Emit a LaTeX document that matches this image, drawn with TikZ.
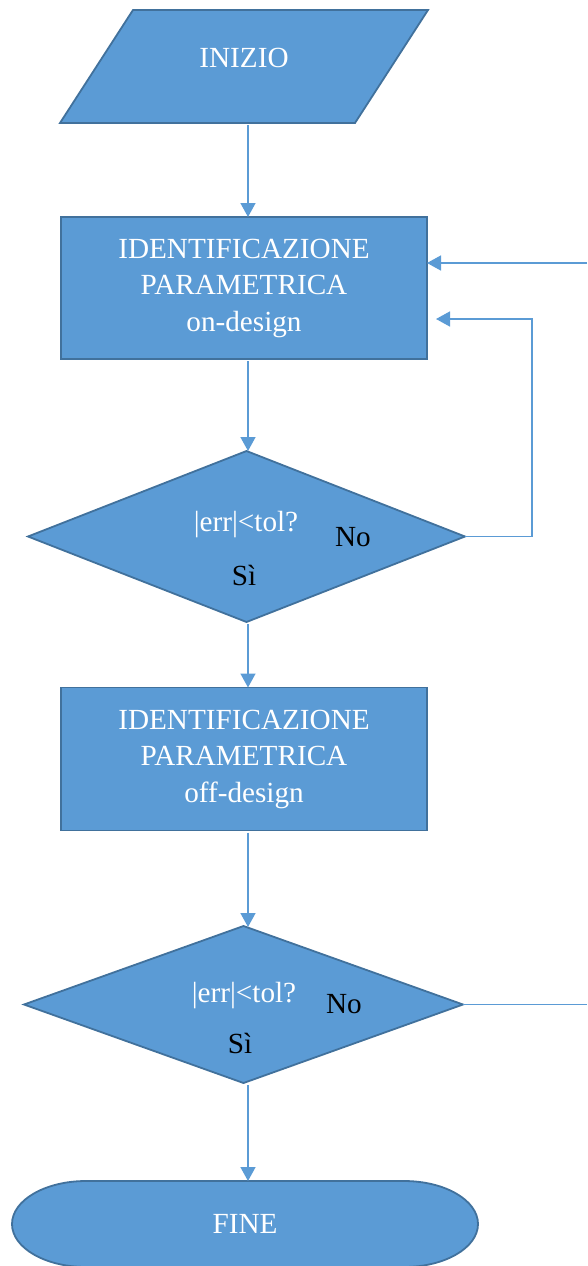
\documentclass[tikz,border=0pt]{standalone}
\usepackage{fontspec}
\setmainfont{Liberation Serif}
\usetikzlibrary{arrows.meta,shapes.geometric,calc}
\definecolor{fillblue}{HTML}{5B9BD5}
\definecolor{edgeblue}{HTML}{41719C}
\begin{document}
\begin{tikzpicture}[x=1pt,y=1pt,
  every node/.style={font=\fontsize{29.2}{36.5}\selectfont, inner sep=0pt, outer sep=0pt},
  frame/.style={draw=none, minimum width=#1},
  procbox/.style={rectangle, draw=edgeblue, line width=1.8pt, fill=fillblue,
    text=white, align=center, minimum width=366pt, minimum height=143pt},
  decision/.style={diamond, draw=edgeblue, line width=1.8pt, fill=fillblue},
  outline/.style={draw=edgeblue, line width=1.8pt, fill=fillblue},
  lightlbl/.style={text=white},
  darklbl/.style={text=black},
  conn/.style={draw=fillblue, line width=1.5pt},
  arrowconn/.style={conn, -{Triangle[length=14pt,width=15pt]}},
]
\useasboundingbox (0,0) rectangle (587,-1266);

% start: slanted input block
\node[frame=368pt, minimum height=113pt] (start) at (244,-66.5) {};
\draw[outline] (start.south west) -- ($(start.north west)+(73,0)$)
  -- (start.north east) -- ($(start.south east)+(-73,0)$) -- cycle;
\node[lightlbl] (startlbl) at ($(start.center)+(0,9)$) {INIZIO};

% on-design identification
\node[procbox, minimum height=142pt] (ident1) at (244,-288)
  {IDENTIFICAZIONE\\PARAMETRICA\\on-design};

% first tolerance check
\node[decision, minimum width=437pt, minimum height=171pt] (check1) at (246.5,-536.5) {};
\node[lightlbl] (q1) at (246,-525) {|err|<tol?};
\node[darklbl] (no1) at (353,-537) {No};
\node[darklbl] (yes1) at (244,-575) {Sì};

% off-design identification
\node[procbox] (ident2) at (244,-759)
  {IDENTIFICAZIONE\\PARAMETRICA\\off-design};

% second tolerance check
\node[decision, minimum width=439pt, minimum height=157pt] (check2) at (243.5,-1004.5) {};
\node[lightlbl] (q2) at (244,-996) {|err|<tol?};
\node[darklbl] (no2) at (344,-1004) {No};
\node[darklbl] (yes2) at (240,-1043) {Sì};

% end terminator with elliptical caps
\node[frame=466pt, minimum height=86pt] (finish) at (245,-1224) {};
\draw[outline] ($(finish.north west)+(74,0)$) -- ($(finish.north east)+(-74,0)$)
  arc[start angle=90, end angle=-90, x radius=74, y radius=43]
  -- ($(finish.south west)+(74,0)$)
  arc[start angle=270, end angle=90, x radius=74, y radius=43] -- cycle;
\node[lightlbl] (finishlbl) at (finish.center) {FINE};

% main flow, all on one vertical line
\coordinate (axis) at (248,0);
\draw[arrowconn, shorten <=2pt] (start.south -| axis) -- (ident1.north -| axis);
\draw[arrowconn, shorten <=2pt] (ident1.south -| axis) -- (check1.north -| axis);
\draw[arrowconn, shorten <=2pt] (check1.south -| axis) -- (ident2.north -| axis);
\draw[arrowconn, shorten <=2pt] (ident2.south -| axis) -- ([yshift=-1pt]check2.north -| axis);
\draw[arrowconn, shorten <=2pt] (check2.south -| axis) -- (finish.north -| axis);

% loop back from the first check
\coordinate (loopcorner) at (532,-319);
\coordinate (loopend) at ($(ident1.east)+(9,-31)$);
\draw[arrowconn] (check1.east) -- (check1.east -| loopcorner) -- (loopcorner) -- (loopend);

% return path from the second check
\coordinate (inright) at (587,-263);
\draw[arrowconn] (inright) -- (inright -| ident1.east);
\coordinate (outright) at (587,-1004.5);
\draw[conn] (check2.east) -- (outright);
\end{tikzpicture}
\end{document}
